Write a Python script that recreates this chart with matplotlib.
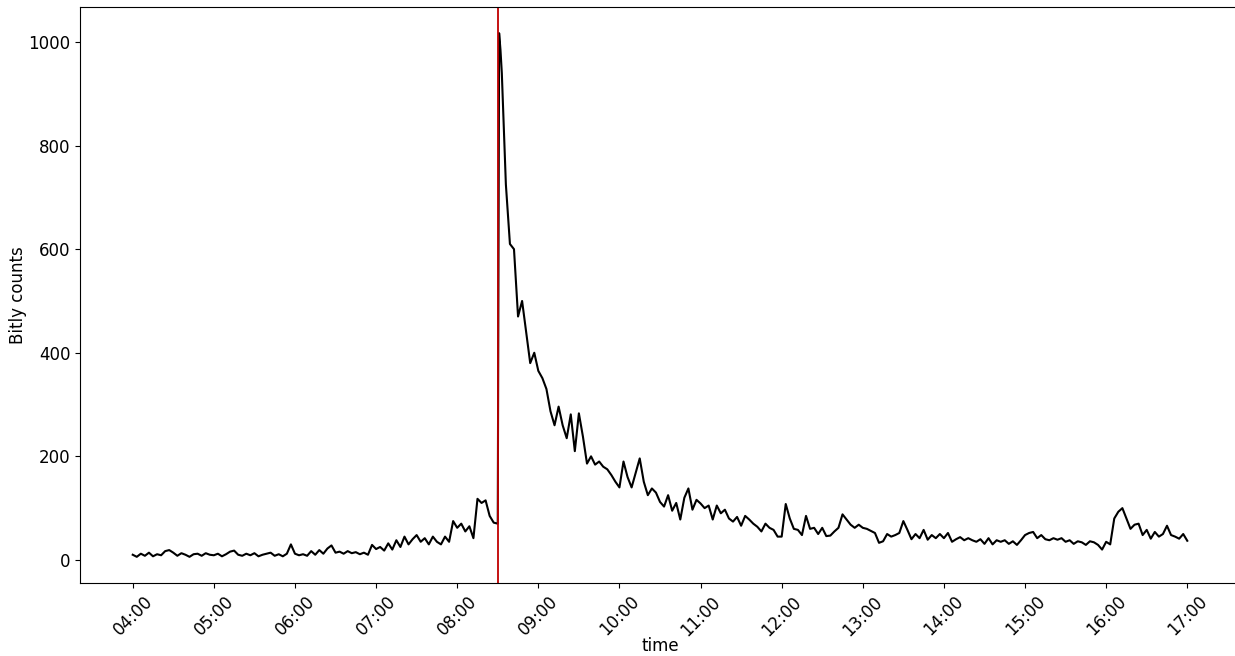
import matplotlib
matplotlib.use("Agg")
import matplotlib.pyplot as plt
import matplotlib.dates as mdates
import pandas as pd
import numpy as np

# Bitly counts sampled every 3 minutes, one list per hour (:00, :03, ... :57)
h04 = [10, 6, 12, 8, 14, 7, 11, 9, 17, 19, 14, 8, 13, 10, 6, 11, 12, 8, 13, 10]
h05 = [9, 12, 7, 11, 16, 18, 10, 8, 12, 9, 13, 7, 10, 12, 14, 8, 11, 7, 12, 30]
h06 = [12, 9, 11, 8, 17, 10, 19, 12, 22, 28, 14, 16, 12, 17, 13, 15, 11, 14, 10, 29]
h07 = [21, 25, 18, 32, 20, 38, 25, 45, 30, 40, 48, 35, 42, 30, 45, 35, 30, 45, 35, 75]
h08 = [62, 70, 55, 65, 42, 118, 110, 115, 85, 72, 70, 940, 725, 610, 600, 470, 500, 440, 380, 400]
h09 = [365, 351, 330, 287, 260, 296, 260, 235, 281, 210, 283, 238, 186, 200, 184, 190, 180, 175, 164, 151]
h10 = [140, 190, 160, 140, 168, 196, 151, 125, 138, 130, 112, 103, 125, 95, 110, 78, 120, 138, 97, 116]
h11 = [109, 100, 105, 78, 105, 90, 97, 80, 74, 83, 66, 85, 78, 70, 64, 55, 70, 62, 58, 45]
h12 = [45, 108, 80, 60, 58, 48, 85, 60, 62, 50, 62, 46, 47, 55, 62, 88, 78, 68, 62, 68]
h13 = [62, 60, 56, 52, 33, 36, 50, 45, 48, 52, 75, 58, 40, 50, 42, 58, 39, 48, 42, 50]
h14 = [42, 52, 35, 40, 44, 38, 42, 38, 35, 40, 31, 42, 30, 38, 35, 38, 31, 36, 29, 38]
h15 = [48, 52, 54, 42, 48, 40, 38, 42, 39, 42, 35, 38, 31, 36, 34, 29, 36, 34, 29, 20]
h16 = [35, 30, 80, 93, 100, 80, 60, 68, 70, 48, 58, 41, 54, 45, 50, 66, 48, 45, 41, 50]
h17 = [37]

# extra samples right at the spike
spike_times = ["2021-01-01 08:31", "2021-01-01 08:32"]
spike_values = [1017, 985]

event_time = "2021-01-01 08:30"

grid_values = h04 + h05 + h06 + h07 + h08 + h09 + h10 + h11 + h12 + h13 + h14 + h15 + h16 + h17
grid_times = pd.date_range("2021-01-01 04:00", "2021-01-01 17:00", freq="3min")

s = pd.Series(grid_values, index=grid_times)
s = pd.concat([s, pd.Series(spike_values, index=pd.to_datetime(spike_times))]).sort_index()

fig = plt.figure(figsize=(12.35, 6.56), dpi=100)
ax = fig.add_axes([80 / 1235, 73 / 656, 1160 / 1235, 576 / 656])
ax.plot(s.index, s.values, color="black", linewidth=1.5)
ax.axvline(pd.Timestamp(event_time), color="#c00000", linewidth=1.3)

ax.xaxis.set_major_locator(mdates.HourLocator())
ax.xaxis.set_major_formatter(mdates.DateFormatter("%H:%M"))
ax.tick_params(axis="both", labelsize=12)
plt.setp(ax.get_xticklabels(), rotation=45)
ax.set_xlabel("time", fontsize=12, labelpad=-2)
ax.set_ylabel("Bitly counts", fontsize=12, labelpad=1)

fig.savefig("out.png", dpi=100)
